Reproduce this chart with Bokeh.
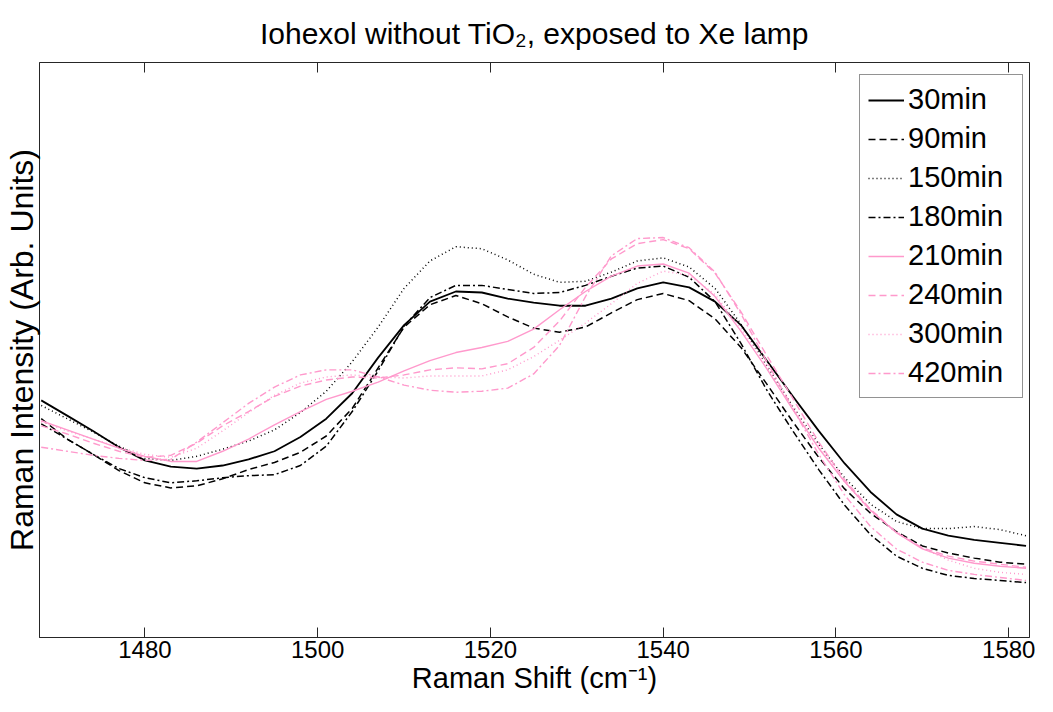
from bokeh.plotting import figure
from bokeh.models import Range1d, FixedTicker, LinearAxis, Legend, LegendItem
from bokeh.embed import file_html
from bokeh.resources import INLINE

# Raman shift (cm^-1)
shift = [1468, 1471, 1474, 1477, 1480, 1483, 1486, 1489, 1492, 1495, 1498, 1501, 1504,
         1507, 1510, 1513, 1516, 1519, 1522, 1525, 1528, 1531, 1534, 1537, 1540, 1543,
         1546, 1549, 1552, 1555, 1558, 1561, 1564, 1567, 1570, 1573, 1576, 1579, 1582]

t30 = [233, 218, 203, 187, 174, 168, 166, 169, 175, 183, 197, 215, 240, 275, 307, 330, 340, 339, 333, 329,
       326, 326, 333, 343, 349, 344, 330, 307, 272, 237, 203, 171, 143, 121, 107, 100, 96, 93, 90]
t90 = [215, 195, 180, 164, 152, 147, 149, 156, 165, 172, 182, 198, 225, 265, 305, 327, 336, 328, 315, 304,
       300, 305, 319, 332, 338, 331, 313, 285, 249, 212, 177, 146, 122, 104, 90, 83, 78, 74, 72]
t150 = [228, 215, 202, 188, 176, 174, 178, 185, 193, 204, 221, 242, 271, 305, 343, 370, 384, 382, 371, 357,
        349, 350, 359, 370, 373, 364, 343, 308, 267, 227, 190, 157, 131, 114, 107, 107, 109, 106, 100]
t180 = [210, 195, 180, 166, 157, 152, 154, 157, 159, 160, 169, 188, 222, 262, 306, 334, 346, 346, 342, 338,
        339, 346, 355, 363, 365, 354, 330, 289, 243, 203, 165, 130, 101, 80, 68, 61, 58, 56, 54]
t210 = [213, 204, 195, 186, 178, 173, 173, 183, 195, 209, 222, 234, 242, 251, 262, 272, 280, 285, 291, 303,
        322, 340, 355, 365, 367, 358, 335, 301, 264, 224, 186, 153, 125, 103, 87, 78, 73, 70, 68]
t240 = [208, 200, 191, 183, 177, 179, 191, 208, 222, 237, 247, 253, 256, 255, 258, 263, 265, 264, 269, 285,
        311, 344, 372, 387, 391, 382, 358, 320, 277, 235, 192, 155, 126, 103, 88, 80, 75, 72, 69]
t300 = [212, 203, 195, 187, 180, 177, 186, 203, 221, 238, 250, 256, 258, 256, 255, 257, 257, 257, 263, 276,
        292, 309, 328, 348, 360, 356, 337, 304, 267, 227, 188, 153, 124, 104, 88, 76, 68, 64, 62]
t420 = [187, 183, 179, 176, 174, 175, 192, 211, 230, 246, 258, 263, 263, 256, 248, 243, 241, 242, 245, 259,
        287, 335, 375, 392, 393, 383, 359, 318, 271, 225, 180, 140, 109, 87, 74, 66, 62, 59, 56]

labels = ["30min", "90min", "150min", "180min", "210min", "240min", "300min", "420min"]
xticks = [1480, 1500, 1520, 1540, 1560, 1580]

series = [t30, t90, t150, t180, t210, t240, t300, t420]
BLACK = "#000000"
PINK = "#FF99CC"
styles = [
    (BLACK, "solid", 1.8),
    (BLACK, "7 4", 1.5),
    (BLACK, "1 3", 1.5),
    (BLACK, "7 3 2 3", 1.5),
    (PINK, "solid", 1.4),
    (PINK, "7 4", 1.4),
    (PINK, "1 3", 1.4),
    (PINK, "7 3 2 3", 1.4),
]

FONT = "Liberation Sans"
AX = "#262626"

p = figure(width=1037, height=696, output_backend="svg", toolbar_location=None,
           x_range=Range1d(1467.8, 1582.4), y_range=Range1d(0, 565),
           min_border_left=38, min_border_right=8, min_border_top=62, min_border_bottom=0,
           x_axis_location=None, y_axis_location=None)

p.title.text = "Iohexol without TiO\u2082, exposed to Xe lamp"
p.title.align = "center"
p.title.text_font = FONT
p.title.text_font_size = "30px"
p.title.text_font_style = "normal"
p.title.text_color = "#000000"
p.title.standoff = 26

p.xgrid.visible = False
p.ygrid.visible = False
p.outline_line_color = AX
p.outline_line_width = 1
p.background_fill_color = "white"
p.border_fill_color = "white"

xb = LinearAxis(ticker=FixedTicker(ticks=xticks), axis_label="Raman Shift (cm\u207b\u00b9)")
xb.major_tick_in = 10
xb.major_tick_out = 0
xb.minor_tick_line_color = None
xb.axis_line_color = AX
xb.major_tick_line_color = AX
xb.major_label_text_font = FONT
xb.major_label_text_font_size = "24px"
xb.major_label_text_color = "#000000"
xb.major_label_standoff = 3
xb.axis_label_text_font = FONT
xb.axis_label_text_font_size = "29px"
xb.axis_label_text_font_style = "normal"
xb.axis_label_text_color = "#000000"
xb.axis_label_standoff = 1
p.add_layout(xb, "below")

xt = LinearAxis(ticker=FixedTicker(ticks=xticks))
xt.major_tick_in = 10
xt.major_tick_out = 0
xt.minor_tick_line_color = None
xt.axis_line_color = None
xt.major_tick_line_color = AX
xt.major_label_text_font_size = "0px"
xt.major_label_text_color = None
xt.major_label_standoff = 0
p.add_layout(xt, "above")

yl = LinearAxis(ticker=FixedTicker(ticks=[]), axis_label="Raman Intensity (Arb. Units)")
yl.axis_line_color = AX
yl.major_tick_line_color = None
yl.minor_tick_line_color = None
yl.axis_label_text_font = FONT
yl.axis_label_text_font_size = "32px"
yl.axis_label_text_font_style = "normal"
yl.axis_label_text_color = "#000000"
yl.axis_label_standoff = 0
p.add_layout(yl, "left")

items = []
for lab, ys, (col, dash, lw) in zip(labels, series, styles):
    r = p.line(shift, ys, line_color=col, line_dash=dash, line_width=lw, line_join="round")
    items.append(LegendItem(label=lab, renderers=[r]))

leg = Legend(items=items, location=(820, 239))
leg.label_text_font = FONT
leg.label_text_font_size = "29px"
leg.label_text_color = "#000000"
leg.label_standoff = 4
leg.glyph_width = 36
leg.glyph_height = 20
leg.label_height = 30
leg.label_width = 106
leg.spacing = 6
leg.padding = 8
leg.margin = 0
leg.border_line_color = AX
leg.border_line_width = 1
leg.background_fill_color = "white"
leg.background_fill_alpha = 1
p.add_layout(leg, "center")

open("out.html", "w").write(file_html(p, INLINE))
